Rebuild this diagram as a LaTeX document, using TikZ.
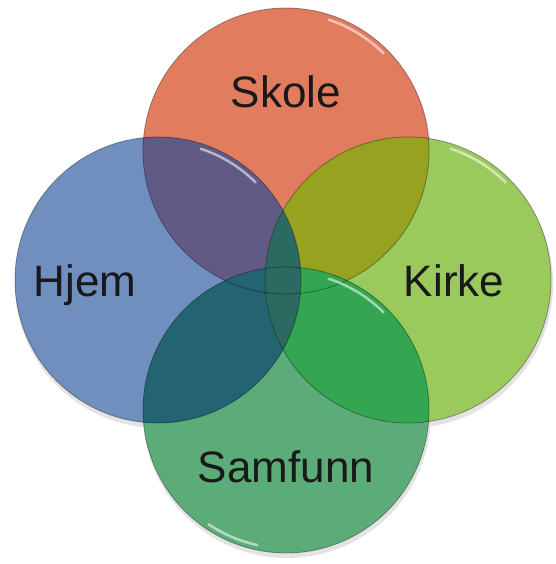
\documentclass[tikz,border=0pt]{standalone}
\usepackage{fontspec}
\setmainfont{Liberation Sans}
\usetikzlibrary{positioning,calc}
\definecolor{skoleorange}{RGB}{226,124,94}
\definecolor{hjemblue}{RGB}{112,142,190}
\definecolor{kirkegreen}{RGB}{155,202,92}
\definecolor{samfunngreen}{RGB}{92,172,122}
\definecolor{skolehjem}{RGB}{96,90,132}
\definecolor{skolekirke}{RGB}{150,162,32}
\definecolor{hjemsamfunn}{RGB}{36,100,114}
\definecolor{kirkesamfunn}{RGB}{52,166,82}
\definecolor{hjemkirke}{RGB}{42,106,96}
\def\ringr{143}

\begin{document}
\begin{tikzpicture}[x=1pt,y=1pt,
        ring/.style={circle, minimum size=286pt, inner sep=0pt},
        word/.style={anchor=base, inner sep=0pt, font=\fontsize{44}{52}\selectfont, text=black!90},
        rim/.style={draw=black, draw opacity=0.35, line width=0.8pt},
        gloss/.style={white, opacity=0.55, line width=2.5pt, line cap=round}
    ]
        \useasboundingbox (0,0) rectangle (555,564);

        % Shadows
        \foreach \cx/\cy in {286/413, 158/284, 408/284, 286/154}
            \fill[gray!22] (\cx+1,\cy-4) circle[radius=\ringr+1];

        % Circles
        \node[ring, fill=skoleorange] (skole) at (286,413) {};
        \node[ring, fill=hjemblue] (hjem) at (158,284) {};
        \node[ring, fill=kirkegreen] (kirke) at (408,284) {};
        \node[ring, fill=samfunngreen] (samfunn) at (286,154) {};

        % Overlaps
        \begin{scope}
            \clip (skole.center) circle[radius=\ringr];
            \fill[skolehjem] (hjem.center) circle[radius=\ringr];
            \fill[skolekirke] (kirke.center) circle[radius=\ringr];
        \end{scope}
        \begin{scope}
            \clip (samfunn.center) circle[radius=\ringr];
            \fill[hjemsamfunn] (hjem.center) circle[radius=\ringr];
            \fill[kirkesamfunn] (kirke.center) circle[radius=\ringr];
        \end{scope}
        \begin{scope}
            \clip (hjem.center) circle[radius=\ringr];
            \fill[hjemkirke] (kirke.center) circle[radius=\ringr];
        \end{scope}

        % Edges and highlights
        \foreach \n in {skole,hjem,kirke,samfunn}
            \draw[rim] (\n.center) circle[radius=\ringr];
        \draw[gloss] (skole.center) ++(45:138) arc[start angle=45, end angle=72, radius=138];
        \draw[gloss] (hjem.center) ++(45:138) arc[start angle=45, end angle=72, radius=138];
        \draw[gloss] (kirke.center) ++(45:138) arc[start angle=45, end angle=72, radius=138];
        \draw[gloss] (samfunn.center) ++(45:138) arc[start angle=45, end angle=72, radius=138];
        \draw[gloss] (samfunn.center) ++(236:138) arc[start angle=236, end angle=258, radius=138];

        % Labels
        \node[word] (skoletext) at (286,456) {Skole};
        \node[word] (hjemtext) at (85,267) {Hjem};
        \node[word] (kirketext) at (454,267) {Kirke};
        \node[word] (samfunntext) at (286,81) {Samfunn};

    \end{tikzpicture}
\end{document}
